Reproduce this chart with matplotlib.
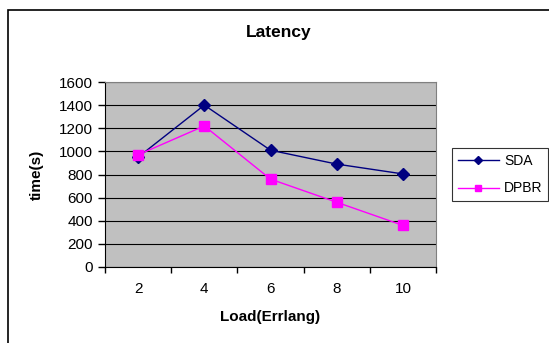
import numpy as np
import matplotlib.pyplot as plt
from matplotlib.patches import Rectangle

plt.rcParams['font.family'] = ['Liberation Sans', 'DejaVu Sans']

# Data
loads = ['2', '4', '6', '8', '10']
sda = [950, 1400, 1010, 890, 805]
dpbr = [970, 1220, 760, 560, 360]

W, H = 549, 343
fig = plt.figure(figsize=(W / 100, H / 100), dpi=100)

# plot area in pixels: left 105, right 436, top 82, bottom 267
ax = fig.add_axes([105 / W, 1 - 267 / H, (436 - 105) / W, (267 - 82) / H])
ax.set_facecolor('#C0C0C0')

x = np.arange(len(loads))
ax.plot(x, sda, color='#000080', marker='D', markersize=6, linewidth=1, label='SDA')
ax.plot(x, dpbr, color='#FF00FF', marker='s', markersize=6.5, linewidth=1, label='DPBR')

ax.set_xlim(-0.5, len(loads) - 0.5)
ax.set_ylim(0, 1600)
ax.set_yticks(range(0, 1601, 200))
ax.yaxis.grid(True, color='#000000', linewidth=0.8)
ax.set_axisbelow(True)

# category labels centred, tick marks between categories
ax.set_xticks(x)
ax.set_xticklabels(loads)
ax.tick_params(axis='x', which='major', length=0, pad=11, labelsize=11)
ax.set_xticks(np.arange(-0.5, len(loads), 1), minor=True)
ax.tick_params(axis='x', which='minor', length=4, width=1, direction='out')
ax.tick_params(axis='y', length=5, width=1, direction='out', labelsize=11, pad=3.5)

for s in ['top', 'right']:
    ax.spines[s].set_color('#808080')
for s in ['left', 'bottom']:
    ax.spines[s].set_color('#000000')

fig.text(279 / W, 1 - 33 / H, 'Latency', ha='center', va='center',
         fontsize=12.5, fontweight='bold')
fig.text(37 / W, 1 - 175 / H, 'time(s)', ha='center', va='center',
         rotation=90, fontsize=11, fontweight='bold')
fig.text(270 / W, 1 - 317 / H, 'Load(Errlang)', ha='center', va='center',
         fontsize=11, fontweight='bold')

leg = ax.legend(loc='upper left', bbox_to_anchor=(452 / W, 1 - 148 / H),
                bbox_transform=fig.transFigure, frameon=True, fancybox=False,
                edgecolor='#000000', fontsize=10, handlelength=3.0,
                borderpad=0.4, labelspacing=1.0, borderaxespad=0,
                handletextpad=0.35, markerscale=0.75)
leg.get_frame().set_linewidth(0.8)

# outer chart frame (runs off the right and bottom of the image)
fig.patches.append(Rectangle((8 / W, -0.1), 1.2, 1.1 - 10.5 / H, transform=fig.transFigure,
                             fill=False, edgecolor='#000000', linewidth=1.2))

fig.savefig('out.png', dpi=100)
